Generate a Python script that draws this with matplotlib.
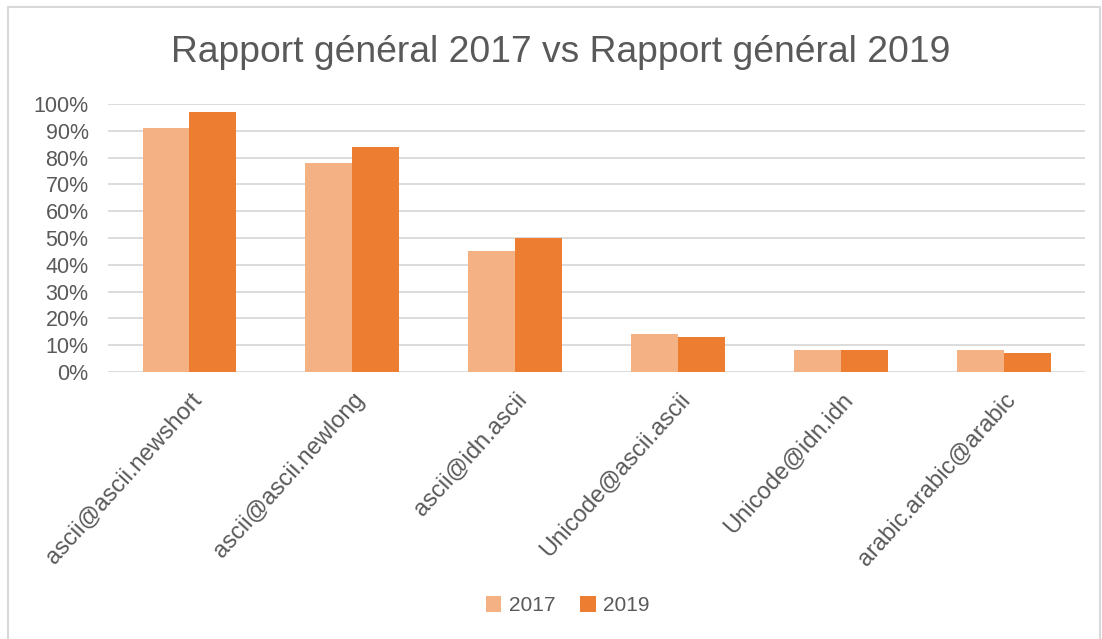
import matplotlib.pyplot as plt
import numpy as np
from matplotlib.patches import Rectangle

categories = ["ascii@ascii.newshort", "ascii@ascii.newlong", "ascii@idn.ascii",
              "Unicode@ascii.ascii", "Unicode@idn.idn", "arabic.arabic@arabic"]
v2017 = [0.91, 0.78, 0.45, 0.14, 0.08, 0.08]
v2019 = [0.97, 0.84, 0.50, 0.13, 0.08, 0.07]

plt.rcParams['font.family'] = ['Liberation Sans', 'DejaVu Sans']
txt = "#595959"

fig = plt.figure(figsize=(11.02, 6.39), dpi=100)
ax = fig.add_axes([0.098, 0.418, 0.887, 0.419])

x = np.arange(len(categories))
w = 0.288
ax.bar(x - w / 2, v2017, w, color="#F4B183", label="2017", zorder=3)
ax.bar(x + w / 2, v2019, w, color="#ED7D31", label="2019", zorder=3)

ax.set_xlim(-0.5, len(categories) - 0.5)
ax.set_ylim(0, 1.0)
ticks = np.arange(0, 1.01, 0.1)
ax.set_yticks(ticks)
ax.set_yticklabels([f"{int(round(t * 100))}%" for t in ticks], fontsize=15.5, color=txt)
ax.set_xticks(x)
ax.set_xticklabels(categories, rotation=48, ha="right", rotation_mode="anchor",
                   fontsize=17, color=txt)
ax.tick_params(axis="y", length=0, pad=14)
ax.tick_params(axis="x", length=0, pad=12)
ax.grid(axis="y", color="#D9D9D9", linewidth=1.3, zorder=0)
for s in ax.spines.values():
    s.set_visible(False)

fig.suptitle("Rapport général 2017 vs Rapport général 2019", fontsize=26.8, color=txt,
             x=0.509, y=0.945)

fig.legend(loc="lower center", bbox_to_anchor=(0.515, 0.008), ncol=2, frameon=False,
           fontsize=15, handlelength=0.75, handleheight=0.75, columnspacing=1.2,
           handletextpad=0.35, labelcolor=txt)

fig.patches.append(Rectangle((0.007, -0.01), 0.991, 0.999, transform=fig.transFigure,
                             fill=False, edgecolor="#D9D9D9", linewidth=1.5))

fig.savefig("out.png", dpi=100)
